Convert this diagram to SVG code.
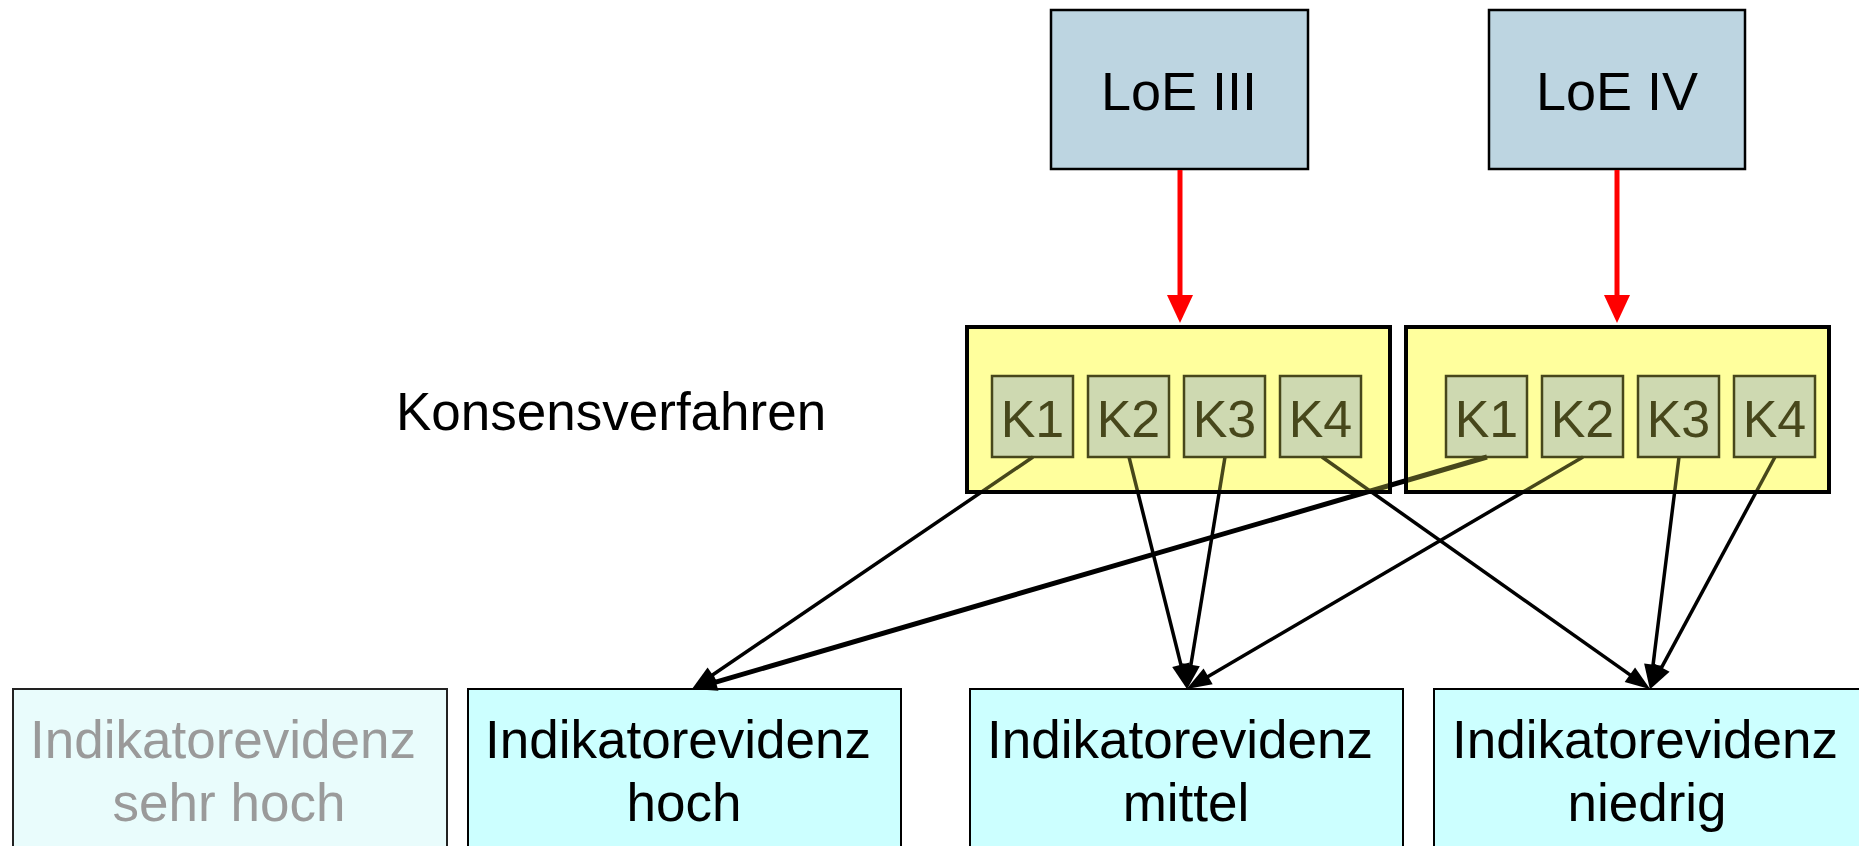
<svg xmlns="http://www.w3.org/2000/svg" width="1859" height="846" viewBox="0 0 1859 846">
<style>
  text { font-family: "Liberation Sans", Arial, sans-serif; fill: #000; }
  .loe { fill: #bdd5e1; stroke: #000; stroke-width: 2.5; }
  .big { font-size: 53px; text-anchor: middle; }
  .kbg { fill: #ffffb4; stroke: none; }
  .kbox { fill: #bccbd0; stroke: #000; stroke-width: 2.5; }
  .ktxt { font-size: 52px; text-anchor: middle; }
  .tint { fill: #ffff60; fill-opacity: 0.28; stroke: none; }
  .kframe { fill: none; stroke: #000; stroke-width: 4; }
  .ind { fill: #ccffff; stroke: #000; stroke-width: 2; }
  .ind-faint { fill: #e9fcfc; stroke: #222; stroke-width: 2; }
  .faint { fill: #9a9a9a; }
  .red { stroke: #ff0000; stroke-width: 5; fill: none; marker-end: url(#redhead); }
  .blk { stroke: #000; stroke-width: 3.5; fill: none; marker-end: url(#blkhead); }
  .blk.thick { stroke-width: 5; }
</style>
<defs>
  <marker id="blkhead" markerUnits="userSpaceOnUse" markerWidth="28" markerHeight="20" refX="2" refY="9" orient="auto" viewBox="0 0 28 18" overflow="visible">
    <path d="M0,0 L25,9 L0,18 Z" fill="#000"/>
  </marker>
  <marker id="redhead" markerUnits="userSpaceOnUse" markerWidth="30" markerHeight="28" refX="2" refY="13" orient="auto" viewBox="0 0 30 26" overflow="visible">
    <path d="M0,0 L28,13 L0,26 Z" fill="#ff0000"/>
  </marker>
</defs>
<rect x="0" y="0" width="1859" height="846" fill="#ffffff"/>

<g id="loe3">
  <rect class="loe" x="1051" y="10" width="257" height="159"/>
  <text class="big" x="1179" y="110" style="font-size:54px">LoE III</text>
</g>
<g id="loe4">
  <rect class="loe" x="1489" y="10" width="256" height="159"/>
  <text class="big" x="1617" y="110" style="font-size:54px">LoE IV</text>
</g>

<g id="konsens-label">
  <text x="396" y="430" style="font-size:53px">Konsensverfahren</text>
</g>

<g id="konsens-left">
  <rect class="kbg" x="967" y="327" width="423" height="165"/>
  <g id="kl1"><rect class="kbox" x="992" y="376" width="81" height="81"/><text class="ktxt" x="1032.5" y="437">K1</text></g>
  <g id="kl2"><rect class="kbox" x="1088" y="376" width="81" height="81"/><text class="ktxt" x="1128.5" y="437">K2</text></g>
  <g id="kl3"><rect class="kbox" x="1184" y="376" width="81" height="81"/><text class="ktxt" x="1224.5" y="437">K3</text></g>
  <g id="kl4"><rect class="kbox" x="1280" y="376" width="81" height="81"/><text class="ktxt" x="1320.5" y="437">K4</text></g>
</g>
<g id="konsens-right">
  <rect class="kbg" x="1406" y="327" width="423" height="165"/>
  <g id="kr1"><rect class="kbox" x="1446" y="376" width="81" height="81"/><text class="ktxt" x="1486.5" y="437">K1</text></g>
  <g id="kr2"><rect class="kbox" x="1542" y="376" width="81" height="81"/><text class="ktxt" x="1582.5" y="437">K2</text></g>
  <g id="kr3"><rect class="kbox" x="1638" y="376" width="81" height="81"/><text class="ktxt" x="1678.5" y="437">K3</text></g>
  <g id="kr4"><rect class="kbox" x="1734" y="376" width="81" height="81"/><text class="ktxt" x="1774.5" y="437">K4</text></g>
</g>

<g id="ind-sehrhoch">
  <rect class="ind-faint" x="13" y="689" width="434" height="220"/>
  <text class="big faint" x="223" y="758">Indikatorevidenz</text>
  <text class="big faint" x="229" y="821">sehr hoch</text>
</g>
<g id="ind-hoch">
  <rect class="ind" x="468" y="689" width="433" height="220"/>
  <text class="big" x="678" y="758">Indikatorevidenz</text>
  <text class="big" x="684" y="821">hoch</text>
</g>
<g id="ind-mittel">
  <rect class="ind" x="970" y="689" width="433" height="220"/>
  <text class="big" x="1180" y="758">Indikatorevidenz</text>
  <text class="big" x="1186" y="821">mittel</text>
</g>
<g id="ind-niedrig">
  <rect class="ind" x="1434" y="689" width="433" height="220"/>
  <text class="big" x="1645" y="758">Indikatorevidenz</text>
  <text class="big" x="1647" y="821">niedrig</text>
</g>

<g id="connectors">
  <line class="red" x1="1180" y1="170" x2="1180" y2="297"/>
  <line class="red" x1="1617" y1="170" x2="1617" y2="297"/>
  <line class="blk" x1="1033" y1="457" x2="711" y2="676"/>
  <line class="blk" x1="1129" y1="457" x2="1181.4" y2="666.7"/>
  <line class="blk" x1="1225" y1="457" x2="1190.6" y2="666.7"/>
  <line class="blk" x1="1322" y1="457" x2="1631.5" y2="675.9"/>
  <line class="blk thick" x1="1487" y1="457" x2="714" y2="682.6"/>
  <line class="blk" x1="1583" y1="457" x2="1206.4" y2="677.4"/>
  <line class="blk" x1="1679" y1="457" x2="1652.8" y2="666.7"/>
  <line class="blk" x1="1775" y1="457" x2="1660.7" y2="669.2"/>
</g>

<g id="konsens-tint">
  <rect class="tint" x="969" y="329" width="419" height="161"/>
  <rect class="tint" x="1408" y="329" width="419" height="161"/>
  <rect class="kframe" x="967" y="327" width="423" height="165"/>
  <rect class="kframe" x="1406" y="327" width="423" height="165"/>
</g>
</svg>
